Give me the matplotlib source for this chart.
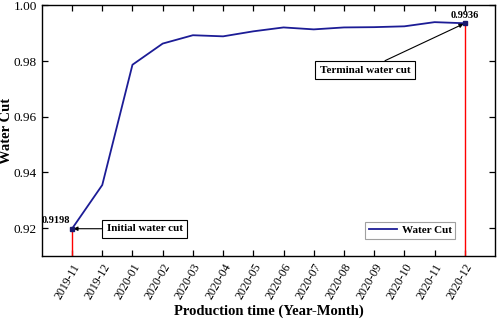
import matplotlib
matplotlib.use("Agg")
import matplotlib.pyplot as plt

plt.rcParams['font.family'] = ['Liberation Serif', 'DejaVu Serif']

months = ["2019-11", "2019-12", "2020-01", "2020-02", "2020-03", "2020-04", "2020-05",
          "2020-06", "2020-07", "2020-08", "2020-09", "2020-10", "2020-11", "2020-12"]
water_cut = [0.9198, 0.9355, 0.9787, 0.9863, 0.9893, 0.9889, 0.9907,
             0.9921, 0.9914, 0.9921, 0.9922, 0.9925, 0.9940, 0.9936]
yticks = [0.92, 0.94, 0.96, 0.98, 1.00]

line_color = '#1c1c96'
fig = plt.figure(figsize=(4.98, 3.2), dpi=100)
ax = fig.add_axes([0.084, 0.2, 0.91, 0.783])

x = list(range(len(months)))
ax.plot(x, water_cut, color=line_color, lw=1.3, label='Water Cut', zorder=3)

ymin, ymax = 0.91, 1.00
ax.set_xlim(-1, len(months))
ax.set_ylim(ymin, ymax)

# red drop lines
for i in (0, len(months) - 1):
    ax.plot([x[i], x[i]], [ymin, water_cut[i]], color='red', lw=1.0, zorder=2)
    ax.plot(x[i], water_cut[i], marker='s', ms=3.5, color='#1a1a6e', zorder=4)

ax.text(x[0] - 0.05, water_cut[0] + 0.0012, f"{water_cut[0]:.4f}", ha='right', va='bottom',
        fontsize=7.5, fontweight='bold')
ax.text(x[-1], water_cut[-1] + 0.0012, f"{water_cut[-1]:.4f}", ha='center', va='bottom',
        fontsize=7.5, fontweight='bold')

box = dict(boxstyle='square,pad=0.4', fc='white', ec='black', lw=0.8)
ax.annotate("Initial water cut", xy=(x[0], water_cut[0]), xytext=(x[0] + 1.15, water_cut[0]),
            ha='left', va='center', fontsize=8, fontweight='bold', bbox=box,
            arrowprops=dict(arrowstyle='-|>', color='black', lw=0.8, mutation_scale=6,
                            shrinkA=0, shrinkB=1))
ax.annotate("Terminal water cut", xy=(x[-1], water_cut[-1]), xytext=(9.7, 0.9768),
            ha='center', va='center', fontsize=8, fontweight='bold', bbox=box,
            arrowprops=dict(arrowstyle='-|>', color='black', lw=0.8, mutation_scale=6,
                            shrinkA=0, shrinkB=1))

ax.set_xticks(x)
ax.set_xticklabels(months, rotation=60, ha='right', rotation_mode='anchor', fontsize=8.5)
ax.set_yticks(yticks)
ax.set_yticklabels([f"{v:.2f}" for v in yticks], fontsize=9.5)
ax.tick_params(direction='in', top=True, right=True, length=4.5, width=0.9)
ax.tick_params(axis='x', pad=4)
for s in ax.spines.values():
    s.set_linewidth(1.0)

ax.set_xlabel("Production time (Year-Month)", fontsize=10.5, fontweight='bold', labelpad=2)
ax.set_ylabel("Water Cut", fontsize=10.5, fontweight='bold')
ax.yaxis.set_label_coords(-0.064, 0.5)

leg = ax.legend(loc='lower right', bbox_to_anchor=(0.925, 0.045), prop={'size': 8, 'weight': 'bold'},
                frameon=True, fancybox=False, edgecolor='#888888', handlelength=2.5,
                borderpad=0.35, handletextpad=0.4)
leg.get_frame().set_linewidth(0.8)

fig.savefig("out.png", dpi=100)
